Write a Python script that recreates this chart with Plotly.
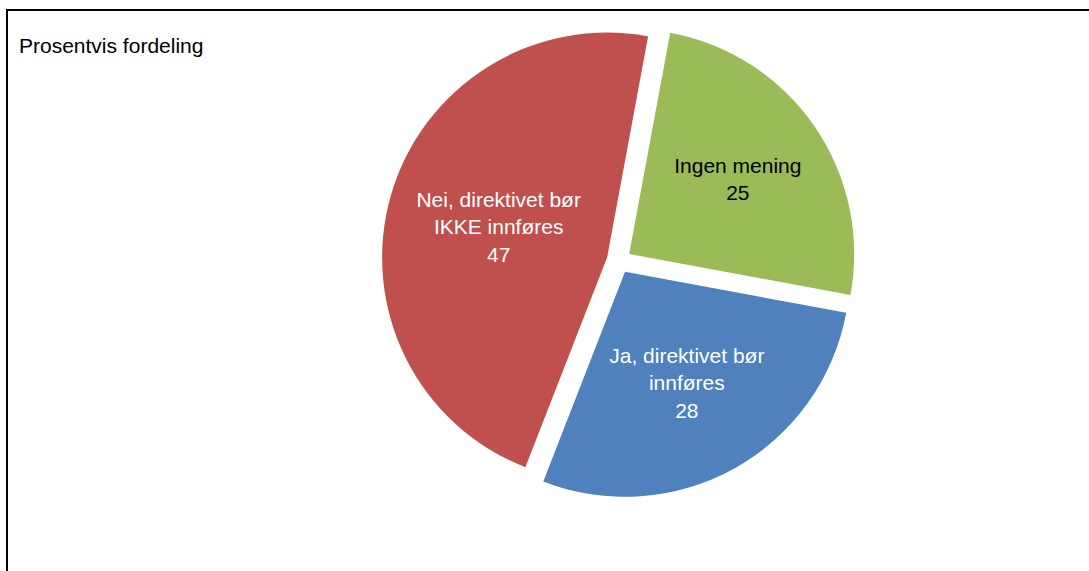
import plotly.graph_objects as go

labels = ["Ingen mening", "Ja, direktivet bør<br>innføres", "Nei, direktivet bør<br>IKKE innføres"]
values = [25, 28, 47]
colors = ["#9BBB59", "#4F81BD", "#C0504D"]
text_colors = ["#000000", "#FFFFFF", "#FFFFFF"]
title_text = "Prosentvis fordeling"

W, H = 1089, 571
pull = 0.055
cx, cy, r = 619, 261, 225
half = r * (1 + pull)
FONT = "Liberation Sans, Arial, sans-serif"

fig = go.Figure(go.Pie(
    labels=labels,
    values=values,
    sort=False,
    direction="clockwise",
    rotation=10.5,
    pull=[pull] * len(values),
    marker=dict(colors=colors, line=dict(width=0)),
    texttemplate="%{label}<br>%{value}",
    textposition="inside",
    insidetextorientation="horizontal",
    insidetextfont=dict(color=text_colors, size=21, family=FONT),
    showlegend=False,
    hoverinfo="label+value",
    domain=dict(x=[(cx - half) / W, (cx + half) / W], y=[(H - cy - half) / H, (H - cy + half) / H]),
))

fig.update_layout(
    width=W, height=H,
    margin=dict(l=0, r=0, t=0, b=0),
    paper_bgcolor="white",
    plot_bgcolor="white",
    font=dict(family=FONT, color="black"),
    title=dict(text=title_text, x=19 / W, xanchor="left", xref="paper",
               y=1 - 46 / H, yanchor="middle", yref="paper",
               font=dict(size=21, color="black")),
    shapes=[dict(type="rect", xref="paper", yref="paper",
                 x0=7 / W, x1=1.05, y0=-0.05, y1=1 - 10 / H,
                 line=dict(color="black", width=2), fillcolor="rgba(0,0,0,0)")],
)

fig.write_html(
    "out.html",
    config={"displayModeBar": False},
    post_script="document.body.style.margin='0';document.body.style.overflow='hidden';",
)
